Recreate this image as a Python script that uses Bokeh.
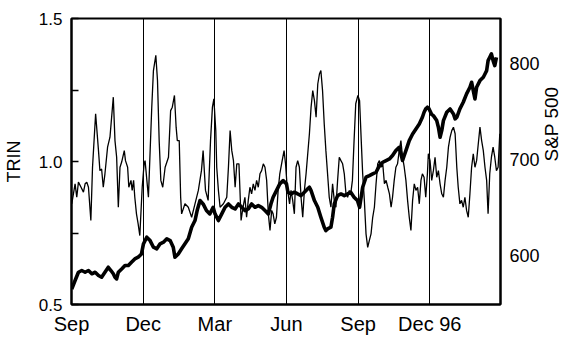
import math
from bokeh.plotting import figure
from bokeh.models import Range1d, LinearAxis, FixedTicker, PrintfTickFormatter
from bokeh.embed import file_html
from bokeh.resources import INLINE

# Months since Sep 1995 (0 = Sep, 3 = Dec, ... 15 = Dec 96)
trin_month = [
    0.01, 0.15, 0.22, 0.29, 0.40, 0.50, 0.57, 0.64, 0.71, 0.81, 0.88, 1.01, 1.13, 1.19, 1.26, 1.33,
    1.40, 1.51, 1.61, 1.75, 1.82, 1.89, 1.96, 2.03, 2.10, 2.21, 2.26, 2.35, 2.40, 2.49, 2.54, 2.60,
    2.65, 2.72, 2.79, 2.86, 2.96, 3.04,
    3.08, 3.22, 3.36, 3.43, 3.53, 3.60, 3.67, 3.74, 3.82, 3.92, 4.06, 4.15, 4.22, 4.31, 4.38, 4.43,
    4.51, 4.57, 4.61, 4.75, 4.89, 5.03, 5.17, 5.31, 5.44, 5.51, 5.61, 5.72, 5.82, 5.90, 5.96, 6.04,
    6.08, 6.15, 6.22, 6.36, 6.50, 6.57, 6.64, 6.71, 6.78, 6.85, 6.92, 7.01, 7.10, 7.18, 7.26, 7.33,
    7.40, 7.47, 7.54, 7.61, 7.68, 7.75, 7.82, 7.89, 7.96, 8.03, 8.10, 8.17, 8.24, 8.31, 8.38, 8.44,
    8.51, 8.58, 8.65, 8.72, 8.82, 8.90,
    8.96, 9.03, 9.13, 9.19, 9.26, 9.33, 9.40, 9.47, 9.54, 9.61, 9.68, 9.75, 9.82, 9.89, 9.96, 10.03,
    10.10, 10.17, 10.24, 10.31, 10.38, 10.44, 10.51, 10.58, 10.65, 10.72, 10.79, 10.86, 10.93, 11.00,
    11.07, 11.14, 11.21, 11.28, 11.35, 11.42, 11.49, 11.56, 11.63, 11.69, 11.76, 11.83, 11.90,
    11.99, 12.06, 12.13, 12.19, 12.26, 12.33, 12.40, 12.47, 12.54, 12.61, 12.68, 12.75, 12.82, 12.89,
    12.96, 13.03, 13.10, 13.17, 13.24, 13.31, 13.38, 13.44, 13.51, 13.58, 13.65, 13.72, 13.79, 13.86,
    13.93, 14.00, 14.07, 14.14, 14.21, 14.28, 14.35, 14.42, 14.49, 14.56, 14.63, 14.69, 14.76, 14.83,
    14.90,
    14.94, 15.01, 15.08, 15.15, 15.22, 15.29, 15.36, 15.43, 15.50, 15.57, 15.64, 15.71, 15.78, 15.85,
    15.92, 15.99, 16.06, 16.13, 16.19, 16.26, 16.33, 16.40, 16.47, 16.54, 16.61, 16.68, 16.75, 16.82,
    16.89, 16.96, 17.03, 17.10, 17.17, 17.24, 17.31, 17.38, 17.44, 17.51, 17.58, 17.65, 17.72, 17.79,
    17.86, 17.93,
]
trin = [
    0.852, 0.922, 0.875, 0.928, 0.910, 0.893, 0.922, 0.928, 0.910, 0.794, 0.980, 1.167, 1.038, 0.968, 0.974, 0.910,
    0.957, 1.050, 1.085, 1.225, 1.073, 1.015, 0.840, 0.980, 0.998, 1.038, 1.003, 0.980, 0.910, 0.934, 0.899, 0.934,
    0.875, 0.817, 0.782, 0.741, 0.910, 0.992,
    1.003, 0.875, 1.190, 1.318, 1.371, 1.283, 1.073, 0.934, 0.910, 0.980, 1.015, 1.178, 1.190, 1.231, 1.120, 1.073,
    1.073, 0.875, 0.817, 0.852, 0.840, 0.805, 0.852, 0.899, 0.968, 1.038, 0.899, 0.864, 1.073, 1.190, 1.219, 1.108,
    0.980, 0.899, 0.840, 0.852, 0.875, 0.980, 1.108, 1.038, 1.003, 0.910, 0.992, 0.992, 0.794, 0.840, 0.875, 0.805,
    0.864, 0.910, 0.887, 0.922, 0.899, 0.934, 0.910, 0.957, 0.968, 0.992, 0.980, 0.934, 0.817, 0.759, 0.829, 0.817,
    0.782, 0.805, 0.899, 0.957, 1.003, 1.038,
    0.992, 0.910, 0.852, 0.899, 0.864, 0.817, 0.980, 1.003, 0.980, 0.875, 0.805, 0.899, 0.957, 1.027, 1.097, 1.190,
    1.248, 1.213, 1.155, 1.271, 1.306, 1.318, 1.248, 1.132, 1.038, 0.957, 0.875, 0.840, 0.922, 0.864,
    0.840, 0.934, 1.015, 1.003, 0.992, 0.957, 0.887, 0.875, 0.899, 0.887, 0.934, 1.073, 1.202,
    1.231, 1.213, 1.073, 0.957, 0.864, 0.747, 0.700, 0.724, 0.747, 0.805, 0.840, 0.922, 0.992, 1.003,
    0.980, 0.992, 0.922, 0.934, 0.910, 0.887, 0.840, 0.875, 0.934, 0.980, 0.992, 1.038, 1.073, 1.015,
    0.980, 0.934, 0.864, 0.805, 0.759, 0.864, 0.922, 0.899, 0.910, 0.852, 0.934, 0.957, 0.945, 0.875,
    0.957,
    1.027, 1.003, 0.934, 0.968, 1.015, 0.945, 0.968, 0.922, 0.887, 0.875, 0.934, 0.980, 1.050, 1.085,
    1.108, 1.120, 1.097, 0.980, 0.910, 0.852, 0.864, 0.840, 0.875, 0.829, 0.805, 0.887, 0.980, 1.027,
    0.980, 1.003, 1.062, 1.120, 1.073, 1.038, 0.980, 0.934, 0.817, 0.957, 1.015, 1.050, 1.015, 0.968,
    0.980, 1.097,
]

spx_month = [
    0.01, 0.15, 0.29, 0.43, 0.57, 0.71, 0.85, 0.99, 1.13, 1.26, 1.40, 1.54, 1.65, 1.75, 1.82, 1.89,
    1.96, 2.10, 2.24, 2.38, 2.51, 2.65, 2.79, 2.93, 3.01, 3.15, 3.29, 3.43, 3.57, 3.71, 3.85, 3.99,
    4.13, 4.26, 4.33, 4.47, 4.61, 4.75, 4.89, 5.03, 5.17, 5.26, 5.38, 5.51, 5.65, 5.79, 5.93, 6.01,
    6.15, 6.29, 6.43, 6.57, 6.71, 6.85, 6.99, 7.13, 7.26, 7.40, 7.54, 7.68, 7.82, 7.96, 8.10, 8.24,
    8.35, 8.44, 8.58, 8.72, 8.86, 9.00, 9.06, 9.19, 9.33, 9.47, 9.61, 9.75, 9.89, 9.96, 10.03, 10.17,
    10.31, 10.44, 10.58, 10.65, 10.72, 10.86, 10.93, 11.00, 11.14, 11.28, 11.42, 11.56, 11.69, 11.83,
    11.97, 12.06, 12.19, 12.33, 12.47, 12.61, 12.75, 12.89, 13.03, 13.17, 13.31, 13.44, 13.58, 13.72,
    13.79, 13.86, 13.93, 14.00, 14.14, 14.28, 14.42, 14.56, 14.69, 14.76, 14.83, 14.90, 14.97, 15.08,
    15.15, 15.29, 15.36, 15.43, 15.50, 15.57, 15.71, 15.85, 15.99, 16.06, 16.13, 16.26, 16.40, 16.54,
    16.68, 16.75, 16.82, 16.89, 16.96, 17.10, 17.24, 17.31, 17.38, 17.44, 17.51, 17.58, 17.65, 17.72,
    17.79,
]
spx = [
    565.0, 574.0, 582.6, 584.4, 582.6, 584.4, 581.0, 582.6, 579.2, 577.4, 582.6, 587.8, 584.4, 581.0, 577.4, 575.7,
    582.6, 586.0, 589.6, 589.6, 593.0, 596.5, 598.3, 601.7, 612.0, 619.1, 615.6, 608.7, 607.0, 612.2, 613.9, 617.4,
    615.6, 608.7, 598.3, 601.7, 607.0, 612.2, 617.4, 629.5, 636.5, 646.9, 657.3, 653.8, 646.9, 643.4, 650.3, 643.4,
    636.5, 643.4, 650.3, 653.8, 650.3, 648.6, 653.8, 650.3, 646.9, 648.6, 653.8, 650.3, 652.1, 650.3, 646.9, 643.4,
    653.8, 660.8, 667.7, 674.7, 678.1, 674.7, 666.0, 664.2, 666.0, 664.2, 662.5, 666.0, 669.5, 671.2, 667.7, 657.3,
    650.3, 639.9, 629.5, 626.0, 627.8, 629.5, 639.9, 653.8, 662.5, 664.2, 662.5, 664.2, 666.0, 660.8,
    657.3, 650.3, 671.2, 681.6, 683.3, 685.1, 686.8, 693.7, 697.2, 699.0, 700.7, 704.2, 709.4, 712.8,
    705.9, 699.0, 704.2, 709.4, 719.8, 726.7, 731.9, 737.1, 744.1, 749.3, 752.8, 754.5, 752.8, 747.0,
    745.8, 740.6, 733.7, 723.3, 730.2, 740.6, 749.3, 752.8, 747.6, 742.4, 744.1, 752.8, 759.7, 768.4,
    775.3, 780.6, 771.9, 763.2, 775.3, 782.3, 785.8, 789.2, 792.7, 803.1, 806.6, 810.1, 803.1, 797.9,
    806.6,
]

x_ticks = [0, 3, 6, 9, 12, 15]
x_labels = ["Sep", "Dec", "Mar", "Jun", "Sep", "Dec 96"]
trin_ticks = [0.5, 1.0, 1.5]
trin_minor = [0.75, 1.25]
spx_ticks = [600, 700, 800]

FONT = "Liberation Sans"

p = figure(width=575, height=339, output_backend="svg", toolbar_location=None,
           x_range=Range1d(0, 17.96), y_range=Range1d(0.5, 1.5),
           min_border_left=71, min_border_right=73, min_border_top=18, min_border_bottom=35)
p.extra_y_ranges = {"spx": Range1d(549, 847)}
p.background_fill_color = "white"
p.border_fill_color = "white"
p.outline_line_color = "black"
p.outline_line_width = 2

# x axis
xa = p.xaxis[0]
xa.ticker = FixedTicker(ticks=x_ticks)
xa.major_label_overrides = {t: l for t, l in zip(x_ticks, x_labels)}
xa.major_tick_in = 0
xa.major_tick_out = 0
xa.minor_tick_in = 0
xa.minor_tick_out = 0
xa.axis_line_width = 2
xa.major_label_standoff = 8
xa.major_label_text_font = FONT
xa.major_label_text_font_size = "20px"
xa.major_label_text_color = "black"

p.xgrid.ticker = FixedTicker(ticks=x_ticks)
p.xgrid.grid_line_color = "black"
p.xgrid.grid_line_width = 1
p.ygrid.visible = False

# left axis
ya = p.yaxis[0]
ya.ticker = FixedTicker(ticks=trin_ticks, minor_ticks=trin_minor)
ya.formatter = PrintfTickFormatter(format="%.1f")
ya.major_tick_in = 7
ya.major_tick_out = 0
ya.minor_tick_in = 7
ya.minor_tick_out = 0
ya.major_tick_line_width = 1.5
ya.minor_tick_line_width = 1.5
ya.axis_line_width = 2
ya.major_label_standoff = 9
ya.major_label_text_font = FONT
ya.major_label_text_font_size = "17px"
ya.major_label_text_color = "black"
ya.axis_label = "TRIN"
ya.axis_label_text_font = FONT
ya.axis_label_text_font_size = "18px"
ya.axis_label_text_font_style = "normal"
ya.axis_label_text_color = "black"
ya.axis_label_standoff = 12

# right axis
ra = LinearAxis(y_range_name="spx", ticker=FixedTicker(ticks=spx_ticks))
ra.major_tick_in = 0
ra.major_tick_out = 0
ra.minor_tick_in = 0
ra.minor_tick_out = 0
ra.axis_line_width = 2
ra.major_label_standoff = 9
ra.major_label_text_font = FONT
ra.major_label_text_font_size = "18px"
ra.major_label_text_color = "black"
ra.axis_label = "S&P 500"
ra.axis_label_text_font = FONT
ra.axis_label_text_font_size = "19px"
ra.axis_label_text_font_style = "normal"
ra.axis_label_text_color = "black"
ra.axis_label_text_align = "center"
ra.axis_label_text_baseline = "middle"
ra.axis_label_standoff = 9
ra.axis_label_orientation = math.pi / 2
p.add_layout(ra, "right")

p.line(trin_month, trin, line_width=1.3, line_color="black")
p.line(spx_month, spx, y_range_name="spx", line_width=3.6, line_color="black", line_join="round")

open("out.html", "w").write(file_html(p, INLINE))
